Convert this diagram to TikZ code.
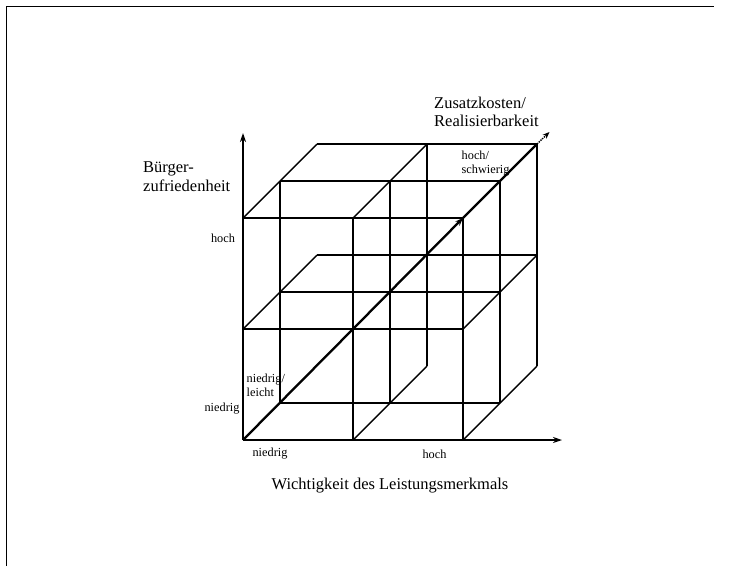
\documentclass[tikz,border=0pt]{standalone}
\usepackage{fontspec}
\setmainfont{Liberation Serif}
\usetikzlibrary{arrows.meta}

\begin{document}
\begin{tikzpicture}[x=1pt,y=-1pt,
  cubeline/.style={line width=1.4pt},
  cubemid/.style={line width=1.7pt},
  axisline/.style={line width=1.8pt,-{Stealth[length=9pt,width=6pt]}},
  diagline/.style={line width=2.3pt},
  framerule/.style={line width=1.5pt},
  biglabel/.style={font=\fontsize{16.5}{18.5}\selectfont, inner sep=0pt, align=left},
  smalllabel/.style={font=\fontsize{12.3}{14}\selectfont, inner sep=0pt, align=left}]

\useasboundingbox (0,0) rectangle (746,566);

% outer frame (left and top rules)
\coordinate (fbl) at (6.5,566);
\coordinate (ftl) at (6.5,6.5);
\coordinate (ftr) at (714,6.5);
\draw[framerule] (fbl) -- (ftl) -- (ftr);

% lattice points p<i><j><k>: i = Wichtigkeit, j = Zufriedenheit, k = Kosten
\foreach \i in {0,1,2}{\foreach \j in {0,1,2}{\foreach \k in {0,1,2}{
  \coordinate (p\i\j\k) at ({243+110*\i+37*\k},{440-111*\j-37*\k});
}}}
\coordinate (ytip) at (243,133);
\coordinate (xtip) at (562,440);
\coordinate (ztip) at (549.5,132);

% labels
\node[biglabel, anchor=west] (zlab) at (434,112) {Zusatzkosten/\\Realisierbarkeit};
\node[biglabel, anchor=west] (ylab) at (143,176.5) {Bürger-\\zufriedenheit};
\node[biglabel] (xlab) at (390,486) {Wichtigkeit des Leistungsmerkmals};
\node[smalllabel] (yhoch) at (223,238.5) {hoch};
\node[smalllabel] (yniedrig) at (222,409) {niedrig};
\node[smalllabel] (xniedrig) at (270,454) {niedrig};
\node[smalllabel] (xhoch) at (434.5,454) {hoch};
\node[smalllabel, anchor=west] (zniedrig) at (246.5,385) {niedrig/\\leicht};
\node[smalllabel, anchor=west] (zhoch) at (461.5,164) {hoch/\\schwierig};

% vertical edges
\draw[cubemid] (p001) -- (p021);
\draw[cubeline] (p100) -- (p120);
\draw[cubemid] (p101) -- (p121);
\draw[cubeline] (p102) -- (p122);
\draw[cubeline] (p200) -- (p220);
\draw[cubemid] (p201) -- (p221);
\draw[cubeline] (p202) -- (p222);

% horizontal edges
\draw[cubemid] (p001) -- (p201);
\draw[cubeline] (p010) -- (p210);
\draw[cubemid] (p011) -- (p211);
\draw[cubeline] (p012) -- (p212);
\draw[cubeline] (p020) -- (p220);
\draw[cubemid] (p021) -- (p221);
\draw[cubeline] (p022) -- (p222);

% depth edges
\draw[cubeline] (p100) -- (p102);
\draw[cubeline] (p200) -- (p202);
\draw[cubeline] (p010) -- (p012);
\draw[cubeline] (p210) -- (p212);
\draw[cubeline] (p020) -- (p022);
\draw[cubeline] (p120) -- (p122);

% axes
\draw[axisline] (p000) -- (ytip);
\draw[axisline] (p000) -- (xtip);
\draw[diagline, -{Stealth[length=8pt,width=6pt]}] (p000) -- (p220);
\draw[diagline] (p220) -- (p222);
\draw[line width=1.4pt, densely dotted, -{Stealth[length=7pt,width=5.5pt]}] (p222) -- (ztip);

\end{tikzpicture}
\end{document}
